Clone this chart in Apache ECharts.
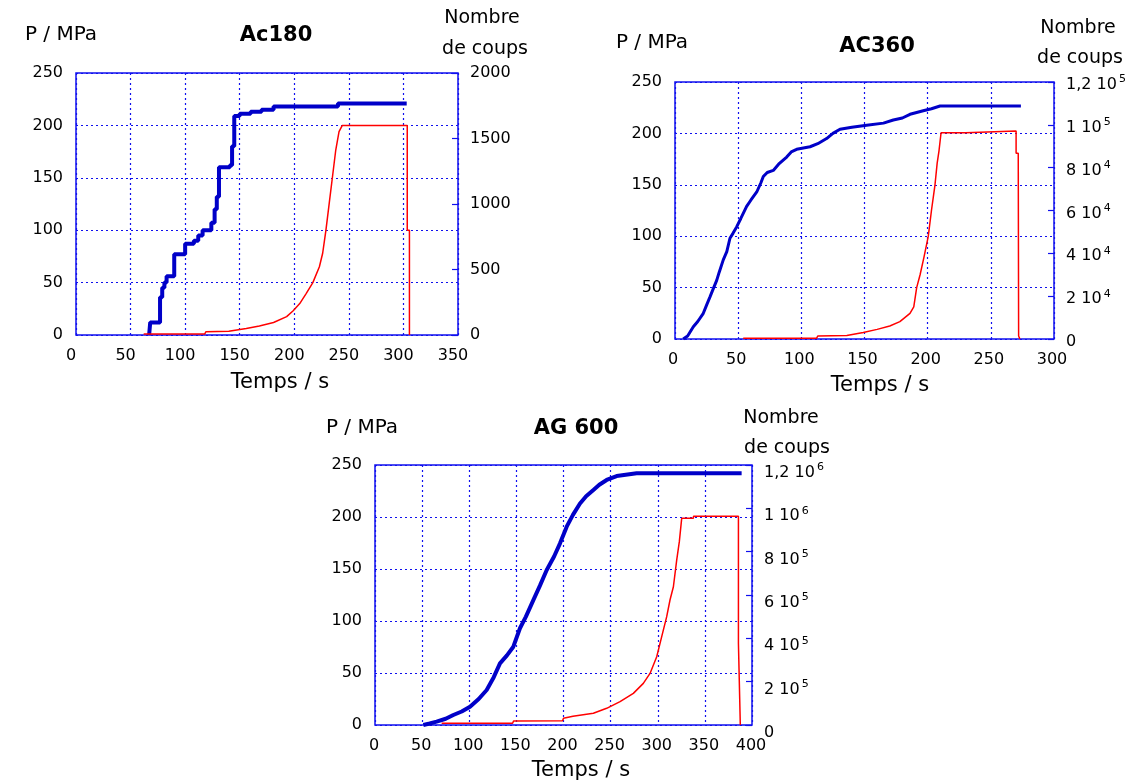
<!DOCTYPE html>
<html>
<head>
<meta charset="utf-8">
<script src="https://cdn.jsdelivr.net/npm/echarts@6/dist/echarts.min.js"></script>
<style>
  html, body { margin: 0; padding: 0; background: #fff; }
  #chart { width: 1147px; height: 784px; }
</style>
</head>
<body>
<div id="chart"></div>
<script>
// --- data: [time s, value] ---
// Ac180 (pressure is drawn as a staircase)
const ac180Pressure = [[67, 0], [68, 12], [77, 36], [79, 45], [81, 50], [83, 56], [90, 77], [100, 87],
  [108, 90], [112, 95], [116, 100], [124, 107], [127, 120], [129, 132], [131, 160], [141, 162],
  [143, 180], [145, 209], [150, 211], [160, 213], [170, 215], [181, 218], [240, 221], [303, 221]]
const ac180Coups = [[62, 8], [118, 8], [119, 25], [140, 28], [141, 43], [156, 50], [168, 69], [181, 95],
  [193, 140], [199, 185], [205, 240], [211, 318], [217, 400], [223, 521], [226, 624], [229, 801],
  [232, 1005], [235, 1208], [238, 1412], [241, 1552], [244, 1600], [303.5, 1600], [303.5, 800],
  [305.5, 800], [305.5, 0]]
// AC360
const ac360Pressure = [[6.5, 0], [10, 3], [14.5, 12], [18, 17], [22.4, 25], [25, 33], [27.7, 41],
  [30, 48], [33, 57], [35, 65], [38.2, 77], [41, 85], [43.5, 98], [46, 103], [48.8, 109], [52, 117],
  [56.7, 129], [60, 135], [64.7, 143], [68, 152], [69.9, 158], [73, 162], [77.8, 164], [82, 170],
  [88.4, 177], [92, 182], [96.3, 184.5], [106.9, 187], [113, 190], [120, 195], [125, 200],
  [130.6, 204], [140, 206], [151.7, 208], [165, 210], [172.8, 213], [180, 215], [186, 218.6],
  [196.5, 222], [203, 224], [209.8, 226.6], [273.8, 226.6]]
const ac360Coups = [[54, 300], [112, 300], [113, 1400], [136, 1600], [137, 2300], [149, 3000],
  [160, 4500], [170, 6100], [178, 8100], [186, 12000], [189, 15000], [191.3, 24000], [194, 30000],
  [197, 38000], [200.5, 48000], [203, 60000], [205.8, 72000], [207.5, 82000], [209, 88000],
  [210.6, 96300], [230, 96300], [231, 97100], [270, 97100], [270, 86700], [271.7, 86700],
  [272, 1400], [273, 0]]
// AG 600
const ag600Pressure = [[51.3, 0], [58, 1.5], [65.4, 3.2], [75, 6], [83.1, 9.6], [92, 13], [100.8, 17.6],
  [110, 25], [118.5, 33.7], [126, 46], [132.6, 59.3], [140, 67], [146.8, 75.3], [153.8, 93],
  [160, 104], [168, 120], [175, 134], [182.2, 149], [190, 162], [196.3, 174.7], [203.4, 190.7],
  [210, 202], [217.5, 213], [224, 220], [231.7, 226], [238, 231], [245.8, 235.6], [256.4, 239.4],
  [277.6, 242], [389, 242]]
const ag600Coups = [[70.7, 7800], [146, 7800], [147, 18500], [199, 20000], [200, 30800], [210, 40000],
  [231.7, 54000], [245.8, 77000], [260, 107600], [274.1, 146000], [284.7, 192000], [291.8, 238000],
  [298.9, 315000], [304.2, 408000], [309.5, 500000], [313, 577000], [316.6, 638000], [320.1, 761000],
  [322.9, 846000], [325.4, 954000], [337.8, 954000], [338, 964000], [385.6, 964000],
  [385.6, 377000], [387.6, 377000], [387.6, 0]]

// right axis tick labels (^ = exponent)
const ac180RightLabels = ['0', '500', '1000', '1500', '2000']
const ac360RightLabels = ['0', '2 10^4', '4 10^4', '6 10^4', '8 10^4', '1 10^5', '1,2 10^5']
const ag600RightLabels = ['0', '2 10^5', '4 10^5', '6 10^5', '8 10^5', '1 10^6', '1,2 10^6']

const FONT = '"DejaVu Sans", sans-serif'
const BOX = '#1010ee'
const BLUE = '#0000c8'
const RED = '#ff0000'
const TICK_SIZE = 16

const grids = [
  { left: 76, top: 73, width: 382, height: 262 },
  { left: 675, top: 82, width: 379, height: 257 },
  { left: 375, top: 465, width: 377, height: 260 }
]

const dotted = { type: [2, 3], color: BOX, width: 1.2 }

function xAxis(idx, max, shiftLeft) {
  return {
    gridIndex: idx, type: 'value', min: 0, max: max, interval: 50,
    axisLine: { show: false }, axisTick: { show: false },
    axisLabel: { color: '#000', fontSize: TICK_SIZE, fontFamily: FONT, margin: 13, padding: [0, shiftLeft, 0, 0] },
    splitLine: { show: true, lineStyle: dotted }
  }
}

function leftAxis(idx) {
  return {
    gridIndex: idx, type: 'value', min: 0, max: 250, interval: 50,
    axisLine: { show: false }, axisTick: { show: false },
    axisLabel: { color: '#000', fontSize: TICK_SIZE, fontFamily: FONT, margin: 13 },
    splitLine: { show: true, lineStyle: dotted }
  }
}

function rightAxis(idx, max, interval, labels, shift) {
  return {
    gridIndex: idx, type: 'value', position: 'right', min: 0, max: max, interval: interval,
    axisLine: { show: false },
    axisTick: { show: true, inside: true, length: 6, lineStyle: { color: BOX, width: 1.2 } },
    splitLine: { show: false },
    axisLabel: {
      color: '#000', fontSize: TICK_SIZE, fontFamily: FONT, margin: 12,
      padding: [shift, 0, 0, 0],
      formatter: function (v) {
        const s = labels[Math.round(v / interval)] || ''
        return s.replace(/\^(\d+)/, '{sup|$1}')
      },
      rich: { sup: { fontSize: 11, fontFamily: FONT, color: '#000', verticalAlign: 'top', padding: [0, 0, 11, 2] } }
    }
  }
}

function series(name, x, y, data, color, width, step) {
  return {
    name: name, type: 'line', xAxisIndex: x, yAxisIndex: y, data: data,
    step: step || false, symbol: 'none', animation: false,
    lineStyle: { color: color, width: width }
  }
}

function txt(x, y, text, size, bold) {
  return {
    type: 'text', x: x, y: y,
    style: {
      text: text, fill: '#000', fontSize: size, fontFamily: FONT,
      fontWeight: bold ? 'bold' : 'normal',
      textAlign: 'center', textVerticalAlign: 'middle'
    }
  }
}

const chart = echarts.init(document.getElementById('chart'))
chart.setOption({
  animation: false,
  grid: grids.map(g => Object.assign({ show: true, borderColor: BOX, borderWidth: 1.5, backgroundColor: 'transparent' }, g)),
  xAxis: [xAxis(0, 350, 10), xAxis(1, 300, 4), xAxis(2, 400, 2)],
  yAxis: [
    leftAxis(0), rightAxis(0, 2000, 500, ac180RightLabels, 0),
    leftAxis(1), rightAxis(1, 120000, 20000, ac360RightLabels, 6),
    leftAxis(2), rightAxis(2, 1200000, 200000, ag600RightLabels, 16)
  ],
  series: [
    series('P Ac180', 0, 0, ac180Pressure, BLUE, 4, 'end'),
    series('Coups Ac180', 0, 1, ac180Coups, RED, 1.5),
    series('P AC360', 1, 2, ac360Pressure, BLUE, 3),
    series('Coups AC360', 1, 3, ac360Coups, RED, 1.5),
    series('P AG 600', 2, 4, ag600Pressure, BLUE, 4),
    series('Coups AG 600', 2, 5, ag600Coups, RED, 1.5)
  ],
  graphic: [
    txt(61, 35, 'P / MPa', 20),
    txt(276, 36, 'Ac180', 21, true),
    txt(482, 18, 'Nombre', 19),
    txt(485, 49, 'de coups', 19),
    txt(280, 383, 'Temps / s', 21),

    txt(652, 43, 'P / MPa', 20),
    txt(877, 47, 'AC360', 21, true),
    txt(1078, 28, 'Nombre', 19),
    txt(1080, 58, 'de coups', 19),
    txt(880, 386, 'Temps / s', 21),

    txt(362, 428, 'P / MPa', 20),
    txt(576, 429, 'AG 600', 21, true),
    txt(781, 418, 'Nombre', 19),
    txt(787, 448, 'de coups', 19),
    txt(581, 771, 'Temps / s', 21)
  ]
})
</script>
</body>
</html>
